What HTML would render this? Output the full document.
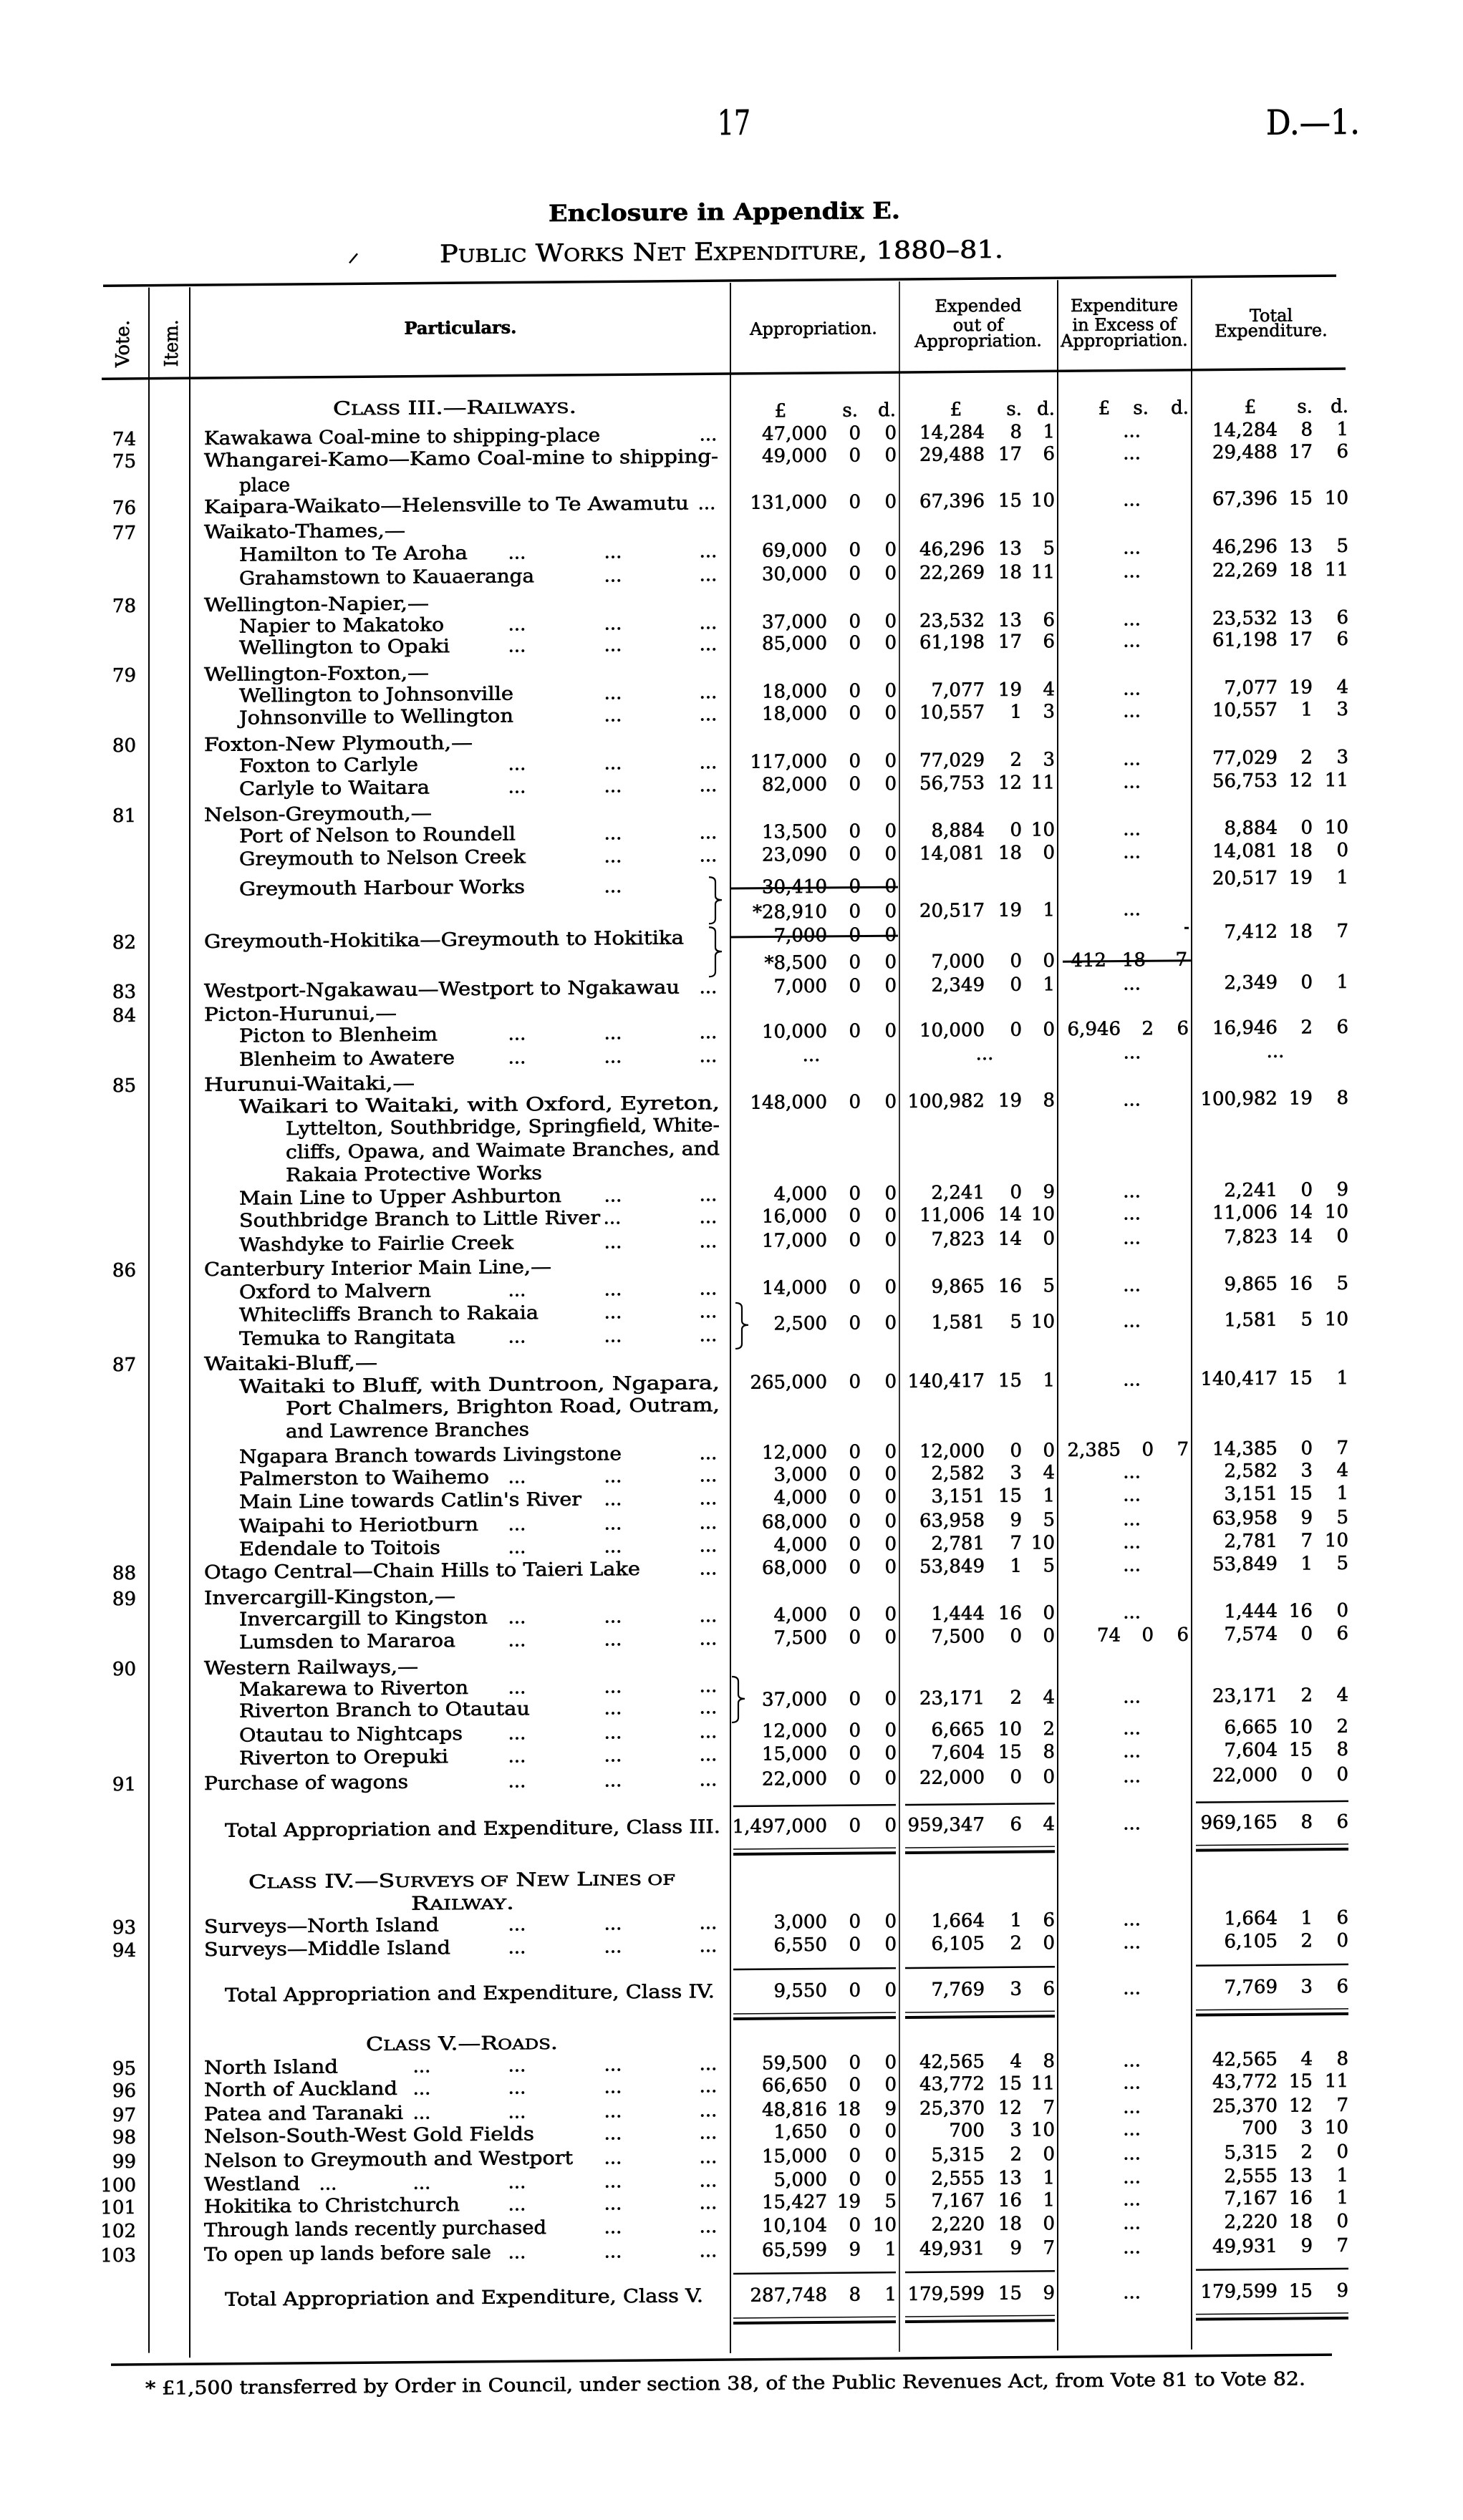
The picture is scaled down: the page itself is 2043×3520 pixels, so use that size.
<!DOCTYPE html>
<html><head><meta charset="utf-8"><style>html,body{margin:0;padding:0;background:#fff}svg{display:block}</style></head>
<body>
<svg xmlns="http://www.w3.org/2000/svg" width="2043" height="3520" viewBox="0 0 2043 3520">
<style>
text{font-family:"DejaVu Serif","Liberation Serif",serif;fill:#000;stroke:#000;stroke-width:0.6px}
.p{font-size:26px}
.n{font-size:26px;text-anchor:end}
.v{font-size:26px;text-anchor:end}
.d{font-size:26px;text-anchor:middle}
.h{font-size:24px;text-anchor:middle}
.sc{font-size:20px}
line{stroke:#000}
path{stroke:#000;fill:none}
</style>
<rect width="2043" height="3520" fill="#fff"/>
<g transform="translate(1021 1760) skewY(-0.47) translate(-1021 -1760)">

<!-- page head -->
<text x="1002" y="188" font-size="48" textLength="46" lengthAdjust="spacingAndGlyphs">17</text>
<text x="1768" y="194" font-size="48" textLength="131" lengthAdjust="spacingAndGlyphs">D.—1.</text>
<text x="766" y="307" font-size="32" font-weight="bold" textLength="491" lengthAdjust="spacingAndGlyphs">Enclosure in Appendix E.</text>
<line x1="488" y1="363" x2="499" y2="350" stroke-width="2.5"/>
<text x="614" y="363" font-size="34" textLength="787" lengthAdjust="spacingAndGlyphs">P<tspan font-size="25">UBLIC</tspan> W<tspan font-size="25">ORKS</tspan> N<tspan font-size="25">ET</tspan> E<tspan font-size="25">XPENDITURE</tspan>, 1880–81.</text>

<!-- table rules -->
<line x1="144" y1="392" x2="1866" y2="392" stroke-width="3.5"/>
<line x1="142" y1="522" x2="1879" y2="522" stroke-width="3.5"/>
<line x1="155" y1="3296" x2="1860" y2="3296" stroke-width="3.5"/>
<line x1="208" y1="395" x2="208" y2="3280" stroke-width="2"/>
<line x1="265" y1="395" x2="265" y2="3287" stroke-width="2"/>
<line x1="1020" y1="395" x2="1020" y2="3287" stroke-width="2"/>
<line x1="1256" y1="395" x2="1256" y2="3287" stroke-width="1.6"/>
<line x1="1477" y1="395" x2="1477" y2="3287" stroke-width="2"/>
<line x1="1664" y1="395" x2="1664" y2="3287" stroke-width="2"/>

<!-- header labels -->
<text font-size="26" text-anchor="middle" transform="translate(180 473) rotate(-90)" textLength="66" lengthAdjust="spacingAndGlyphs">Vote.</text>
<text font-size="26" text-anchor="middle" transform="translate(248 473) rotate(-90)" textLength="66" lengthAdjust="spacingAndGlyphs">Item.</text>
<text class="h" x="643" y="463" font-weight="bold">Particulars.</text>
<text class="h" x="1136" y="468">Appropriation.</text>
<text class="h" x="1366" y="438">Expended</text>
<text class="h" x="1366" y="465">out of</text>
<text class="h" x="1366" y="487">Appropriation.</text>
<text class="h" x="1570" y="439">Expenditure</text>
<text class="h" x="1570" y="466">in Excess of</text>
<text class="h" x="1570" y="488">Appropriation.</text>
<text class="h" x="1775" y="455">Total</text>
<text class="h" x="1775" y="476">Expenditure.</text>

<!-- CLASS III -->
<text x="635" y="575" text-anchor="middle" font-size="26" textLength="340" lengthAdjust="spacingAndGlyphs">C<tspan class="sc">LASS</tspan> III.—R<tspan class="sc">AILWAYS</tspan>.</text>
<text class="d" y="583"><tspan x="1090">£</tspan><tspan x="1335">£</tspan><tspan x="1542">£</tspan><tspan x="1746">£</tspan></text>
<text class="n" y="583"><tspan x="1198">s.</tspan><tspan x="1251">d.</tspan><tspan x="1427">s.</tspan><tspan x="1473">d.</tspan><tspan x="1604">s.</tspan><tspan x="1660">d.</tspan><tspan x="1833">s.</tspan><tspan x="1883">d.</tspan></text>

<!-- 74 -->
<text class="v" x="190" y="615">74</text>
<text class="p" x="285" y="615" textLength="553" lengthAdjust="spacingAndGlyphs">Kawakawa Coal-mine to shipping-place</text>
<text class="d" y="615"><tspan x="989">...</tspan></text>
<text class="n" y="615"><tspan x="1155">47,000</tspan><tspan x="1202">0</tspan><tspan x="1252">0</tspan><tspan x="1375">14,284</tspan><tspan x="1427">8</tspan><tspan x="1473">1</tspan><tspan x="1593">...</tspan><tspan x="1784">14,284</tspan><tspan x="1833">8</tspan><tspan x="1883">1</tspan></text>
<!-- 75 -->
<text class="v" x="190" y="646">75</text>
<text class="p" x="285" y="646" textLength="718" lengthAdjust="spacingAndGlyphs">Whangarei-Kamo—Kamo Coal-mine to shipping-</text>
<text class="n" y="646"><tspan x="1155">49,000</tspan><tspan x="1202">0</tspan><tspan x="1252">0</tspan><tspan x="1375">29,488</tspan><tspan x="1427">17</tspan><tspan x="1473">6</tspan><tspan x="1593">...</tspan><tspan x="1784">29,488</tspan><tspan x="1833">17</tspan><tspan x="1883">6</tspan></text>
<text class="p" x="334" y="681" textLength="71" lengthAdjust="spacingAndGlyphs">place</text>
<!-- 76 -->
<text class="v" x="190" y="711">76</text>
<text class="p" x="285" y="711" textLength="677" lengthAdjust="spacingAndGlyphs">Kaipara-Waikato—Helensville to Te Awamutu</text>
<text class="d" y="711"><tspan x="987">...</tspan></text>
<text class="n" y="711"><tspan x="1155">131,000</tspan><tspan x="1202">0</tspan><tspan x="1252">0</tspan><tspan x="1375">67,396</tspan><tspan x="1427">15</tspan><tspan x="1473">10</tspan><tspan x="1593">...</tspan><tspan x="1784">67,396</tspan><tspan x="1833">15</tspan><tspan x="1883">10</tspan></text>
<!-- 77 -->
<text class="v" x="190" y="746">77</text>
<text class="p" x="285" y="746" textLength="281" lengthAdjust="spacingAndGlyphs">Waikato-Thames,—</text>
<text class="p" x="334" y="778" textLength="319" lengthAdjust="spacingAndGlyphs">Hamilton to Te Aroha</text>
<text class="d" y="778"><tspan x="722">...</tspan><tspan x="856">...</tspan><tspan x="989">...</tspan></text>
<text class="n" y="778"><tspan x="1155">69,000</tspan><tspan x="1202">0</tspan><tspan x="1252">0</tspan><tspan x="1375">46,296</tspan><tspan x="1427">13</tspan><tspan x="1473">5</tspan><tspan x="1593">...</tspan><tspan x="1784">46,296</tspan><tspan x="1833">13</tspan><tspan x="1883">5</tspan></text>
<text class="p" x="334" y="811" textLength="412" lengthAdjust="spacingAndGlyphs">Grahamstown to Kauaeranga</text>
<text class="d" y="811"><tspan x="856">...</tspan><tspan x="989">...</tspan></text>
<text class="n" y="811"><tspan x="1155">30,000</tspan><tspan x="1202">0</tspan><tspan x="1252">0</tspan><tspan x="1375">22,269</tspan><tspan x="1427">18</tspan><tspan x="1473">11</tspan><tspan x="1593">...</tspan><tspan x="1784">22,269</tspan><tspan x="1833">18</tspan><tspan x="1883">11</tspan></text>
<!-- 78 -->
<text class="v" x="190" y="848">78</text>
<text class="p" x="285" y="848" textLength="314" lengthAdjust="spacingAndGlyphs">Wellington-Napier,—</text>
<text class="p" x="334" y="878" textLength="286" lengthAdjust="spacingAndGlyphs">Napier to Makatoko</text>
<text class="d" y="878"><tspan x="722">...</tspan><tspan x="856">...</tspan><tspan x="989">...</tspan></text>
<text class="n" y="878"><tspan x="1155">37,000</tspan><tspan x="1202">0</tspan><tspan x="1252">0</tspan><tspan x="1375">23,532</tspan><tspan x="1427">13</tspan><tspan x="1473">6</tspan><tspan x="1593">...</tspan><tspan x="1784">23,532</tspan><tspan x="1833">13</tspan><tspan x="1883">6</tspan></text>
<text class="p" x="334" y="908" textLength="294" lengthAdjust="spacingAndGlyphs">Wellington to Opaki</text>
<text class="d" y="908"><tspan x="722">...</tspan><tspan x="856">...</tspan><tspan x="989">...</tspan></text>
<text class="n" y="908"><tspan x="1155">85,000</tspan><tspan x="1202">0</tspan><tspan x="1252">0</tspan><tspan x="1375">61,198</tspan><tspan x="1427">17</tspan><tspan x="1473">6</tspan><tspan x="1593">...</tspan><tspan x="1784">61,198</tspan><tspan x="1833">17</tspan><tspan x="1883">6</tspan></text>
<!-- 79 -->
<text class="v" x="190" y="945">79</text>
<text class="p" x="285" y="945" textLength="314" lengthAdjust="spacingAndGlyphs">Wellington-Foxton,—</text>
<text class="p" x="334" y="975" textLength="383" lengthAdjust="spacingAndGlyphs">Wellington to Johnsonville</text>
<text class="d" y="975"><tspan x="856">...</tspan><tspan x="989">...</tspan></text>
<text class="n" y="975"><tspan x="1155">18,000</tspan><tspan x="1202">0</tspan><tspan x="1252">0</tspan><tspan x="1375">7,077</tspan><tspan x="1427">19</tspan><tspan x="1473">4</tspan><tspan x="1593">...</tspan><tspan x="1784">7,077</tspan><tspan x="1833">19</tspan><tspan x="1883">4</tspan></text>
<text class="p" x="334" y="1006" textLength="383" lengthAdjust="spacingAndGlyphs">Johnsonville to Wellington</text>
<text class="d" y="1006"><tspan x="856">...</tspan><tspan x="989">...</tspan></text>
<text class="n" y="1006"><tspan x="1155">18,000</tspan><tspan x="1202">0</tspan><tspan x="1252">0</tspan><tspan x="1375">10,557</tspan><tspan x="1427">1</tspan><tspan x="1473">3</tspan><tspan x="1593">...</tspan><tspan x="1784">10,557</tspan><tspan x="1833">1</tspan><tspan x="1883">3</tspan></text>
<!-- 80 -->
<text class="v" x="190" y="1043">80</text>
<text class="p" x="285" y="1043" textLength="375" lengthAdjust="spacingAndGlyphs">Foxton-New Plymouth,—</text>
<text class="p" x="334" y="1073" textLength="250" lengthAdjust="spacingAndGlyphs">Foxton to Carlyle</text>
<text class="d" y="1073"><tspan x="722">...</tspan><tspan x="856">...</tspan><tspan x="989">...</tspan></text>
<text class="n" y="1073"><tspan x="1155">117,000</tspan><tspan x="1202">0</tspan><tspan x="1252">0</tspan><tspan x="1375">77,029</tspan><tspan x="1427">2</tspan><tspan x="1473">3</tspan><tspan x="1593">...</tspan><tspan x="1784">77,029</tspan><tspan x="1833">2</tspan><tspan x="1883">3</tspan></text>
<text class="p" x="334" y="1105" textLength="266" lengthAdjust="spacingAndGlyphs">Carlyle to Waitara</text>
<text class="d" y="1105"><tspan x="722">...</tspan><tspan x="856">...</tspan><tspan x="989">...</tspan></text>
<text class="n" y="1105"><tspan x="1155">82,000</tspan><tspan x="1202">0</tspan><tspan x="1252">0</tspan><tspan x="1375">56,753</tspan><tspan x="1427">12</tspan><tspan x="1473">11</tspan><tspan x="1593">...</tspan><tspan x="1784">56,753</tspan><tspan x="1833">12</tspan><tspan x="1883">11</tspan></text>
<!-- 81 -->
<text class="v" x="190" y="1141">81</text>
<text class="p" x="285" y="1141" textLength="318" lengthAdjust="spacingAndGlyphs">Nelson-Greymouth,—</text>
<text class="p" x="334" y="1171" textLength="386" lengthAdjust="spacingAndGlyphs">Port of Nelson to Roundell</text>
<text class="d" y="1171"><tspan x="856">...</tspan><tspan x="989">...</tspan></text>
<text class="n" y="1171"><tspan x="1155">13,500</tspan><tspan x="1202">0</tspan><tspan x="1252">0</tspan><tspan x="1375">8,884</tspan><tspan x="1427">0</tspan><tspan x="1473">10</tspan><tspan x="1593">...</tspan><tspan x="1784">8,884</tspan><tspan x="1833">0</tspan><tspan x="1883">10</tspan></text>
<text class="p" x="334" y="1203" textLength="400" lengthAdjust="spacingAndGlyphs">Greymouth to Nelson Creek</text>
<text class="d" y="1203"><tspan x="856">...</tspan><tspan x="989">...</tspan></text>
<text class="n" y="1203"><tspan x="1155">23,090</tspan><tspan x="1202">0</tspan><tspan x="1252">0</tspan><tspan x="1375">14,081</tspan><tspan x="1427">18</tspan><tspan x="1473">0</tspan><tspan x="1593">...</tspan><tspan x="1784">14,081</tspan><tspan x="1833">18</tspan><tspan x="1883">0</tspan></text>
<text class="n" y="1241"><tspan x="1784">20,517</tspan><tspan x="1833">19</tspan><tspan x="1883">1</tspan></text>
<text class="p" x="334" y="1245" textLength="399" lengthAdjust="spacingAndGlyphs">Greymouth Harbour Works</text>
<text class="d" y="1245"><tspan x="856">...</tspan></text>
<text class="n" y="1248"><tspan x="1155">30,410</tspan><tspan x="1202">0</tspan><tspan x="1252">0</tspan></text>
<line x1="1021" y1="1241" x2="1254" y2="1241" stroke-width="3"/>
<path d="M990 1225 Q999 1225 999 1232 L999 1251 Q999 1257 1008 1257 Q999 1257 999 1263 L999 1283 Q999 1290 990 1290" stroke-width="2.2"/>
<text class="n" y="1283"><tspan x="1155">*28,910</tspan><tspan x="1202">0</tspan><tspan x="1252">0</tspan><tspan x="1375">20,517</tspan><tspan x="1427">19</tspan><tspan x="1473">1</tspan><tspan x="1593">...</tspan></text>
<!-- 82 -->
<text class="v" x="190" y="1318">82</text>
<text class="p" x="285" y="1318" textLength="670" lengthAdjust="spacingAndGlyphs">Greymouth-Hokitika—Greymouth to Hokitika</text>
<path d="M990 1295 Q999 1295 999 1302 L999 1323 Q999 1329 1008 1329 Q999 1329 999 1335 L999 1357 Q999 1364 990 1364" stroke-width="2.2"/>
<text class="n" y="1316"><tspan x="1155">7,000</tspan><tspan x="1202">0</tspan><tspan x="1252">0</tspan><tspan x="1784">7,412</tspan><tspan x="1833">18</tspan><tspan x="1883">7</tspan></text>
<line x1="1019" y1="1309" x2="1254" y2="1309" stroke-width="3"/>
<rect x="1654" y="1300" width="6" height="3" fill="#000"/>
<text class="n" y="1354"><tspan x="1155">*8,500</tspan><tspan x="1202">0</tspan><tspan x="1252">0</tspan><tspan x="1375">7,000</tspan><tspan x="1427">0</tspan><tspan x="1473">0</tspan><tspan x="1545">412</tspan><tspan x="1600">18</tspan><tspan x="1658">7</tspan></text>
<line x1="1484" y1="1347" x2="1663" y2="1347" stroke-width="3"/>
<!-- 83 -->
<text class="v" x="190" y="1387">83</text>
<text class="p" x="285" y="1387" textLength="664" lengthAdjust="spacingAndGlyphs">Westport-Ngakawau—Westport to Ngakawau</text>
<text class="d" y="1387"><tspan x="989">...</tspan></text>
<text class="n" y="1387"><tspan x="1155">7,000</tspan><tspan x="1202">0</tspan><tspan x="1252">0</tspan><tspan x="1375">2,349</tspan><tspan x="1427">0</tspan><tspan x="1473">1</tspan><tspan x="1593">...</tspan><tspan x="1784">2,349</tspan><tspan x="1833">0</tspan><tspan x="1883">1</tspan></text>
<!-- 84 -->
<text class="v" x="190" y="1420">84</text>
<text class="p" x="285" y="1420" textLength="269" lengthAdjust="spacingAndGlyphs">Picton-Hurunui,—</text>
<text class="p" x="334" y="1450" textLength="277" lengthAdjust="spacingAndGlyphs">Picton to Blenheim</text>
<text class="d" y="1450"><tspan x="722">...</tspan><tspan x="856">...</tspan><tspan x="989">...</tspan></text>
<text class="n" y="1450"><tspan x="1155">10,000</tspan><tspan x="1202">0</tspan><tspan x="1252">0</tspan><tspan x="1375">10,000</tspan><tspan x="1427">0</tspan><tspan x="1473">0</tspan><tspan x="1565">6,946</tspan><tspan x="1611">2</tspan><tspan x="1660">6</tspan><tspan x="1784">16,946</tspan><tspan x="1833">2</tspan><tspan x="1883">6</tspan></text>
<text class="p" x="334" y="1483" textLength="301" lengthAdjust="spacingAndGlyphs">Blenheim to Awatere</text>
<text class="d" y="1483"><tspan x="722">...</tspan><tspan x="856">...</tspan><tspan x="989">...</tspan><tspan x="1133">...</tspan><tspan x="1375">...</tspan><tspan x="1581">...</tspan><tspan x="1781">...</tspan></text>
<!-- 85 -->
<text class="v" x="190" y="1518">85</text>
<text class="p" x="285" y="1518" textLength="294" lengthAdjust="spacingAndGlyphs">Hurunui-Waitaki,—</text>
<text class="p" x="334" y="1549" textLength="671" lengthAdjust="spacingAndGlyphs">Waikari to Waitaki, with Oxford, Eyreton,</text>
<text class="n" y="1549"><tspan x="1155">148,000</tspan><tspan x="1202">0</tspan><tspan x="1252">0</tspan><tspan x="1375">100,982</tspan><tspan x="1427">19</tspan><tspan x="1473">8</tspan><tspan x="1593">...</tspan><tspan x="1784">100,982</tspan><tspan x="1833">19</tspan><tspan x="1883">8</tspan></text>
<text class="p" x="399" y="1580" textLength="606" lengthAdjust="spacingAndGlyphs">Lyttelton, Southbridge, Springfield, White-</text>
<text class="p" x="399" y="1613" textLength="606" lengthAdjust="spacingAndGlyphs">cliffs, Opawa, and Waimate Branches, and</text>
<text class="p" x="399" y="1645" textLength="358" lengthAdjust="spacingAndGlyphs">Rakaia Protective Works</text>
<text class="p" x="334" y="1677" textLength="450" lengthAdjust="spacingAndGlyphs">Main Line to Upper Ashburton</text>
<text class="d" y="1677"><tspan x="856">...</tspan><tspan x="989">...</tspan></text>
<text class="n" y="1677"><tspan x="1155">4,000</tspan><tspan x="1202">0</tspan><tspan x="1252">0</tspan><tspan x="1375">2,241</tspan><tspan x="1427">0</tspan><tspan x="1473">9</tspan><tspan x="1593">...</tspan><tspan x="1784">2,241</tspan><tspan x="1833">0</tspan><tspan x="1883">9</tspan></text>
<text class="p" x="334" y="1708" textLength="504" lengthAdjust="spacingAndGlyphs">Southbridge Branch to Little River</text>
<text class="d" y="1708"><tspan x="855">...</tspan><tspan x="989">...</tspan></text>
<text class="n" y="1708"><tspan x="1155">16,000</tspan><tspan x="1202">0</tspan><tspan x="1252">0</tspan><tspan x="1375">11,006</tspan><tspan x="1427">14</tspan><tspan x="1473">10</tspan><tspan x="1593">...</tspan><tspan x="1784">11,006</tspan><tspan x="1833">14</tspan><tspan x="1883">10</tspan></text>
<text class="p" x="334" y="1742" textLength="383" lengthAdjust="spacingAndGlyphs">Washdyke to Fairlie Creek</text>
<text class="d" y="1742"><tspan x="856">...</tspan><tspan x="989">...</tspan></text>
<text class="n" y="1742"><tspan x="1155">17,000</tspan><tspan x="1202">0</tspan><tspan x="1252">0</tspan><tspan x="1375">7,823</tspan><tspan x="1427">14</tspan><tspan x="1473">0</tspan><tspan x="1593">...</tspan><tspan x="1784">7,823</tspan><tspan x="1833">14</tspan><tspan x="1883">0</tspan></text>
<!-- 86 -->
<text class="v" x="190" y="1776">86</text>
<text class="p" x="285" y="1776" textLength="485" lengthAdjust="spacingAndGlyphs">Canterbury Interior Main Line,—</text>
<text class="p" x="334" y="1808" textLength="268" lengthAdjust="spacingAndGlyphs">Oxford to Malvern</text>
<text class="d" y="1808"><tspan x="722">...</tspan><tspan x="856">...</tspan><tspan x="989">...</tspan></text>
<text class="n" y="1808"><tspan x="1155">14,000</tspan><tspan x="1202">0</tspan><tspan x="1252">0</tspan><tspan x="1375">9,865</tspan><tspan x="1427">16</tspan><tspan x="1473">5</tspan><tspan x="1593">...</tspan><tspan x="1784">9,865</tspan><tspan x="1833">16</tspan><tspan x="1883">5</tspan></text>
<text class="p" x="334" y="1840" textLength="418" lengthAdjust="spacingAndGlyphs">Whitecliffs Branch to Rakaia</text>
<text class="d" y="1840"><tspan x="856">...</tspan><tspan x="989">...</tspan></text>
<path d="M1027 1820 Q1036 1820 1036 1827 L1036 1845 Q1036 1851 1045 1851 Q1036 1851 1036 1857 L1036 1877 Q1036 1884 1027 1884" stroke-width="2.2"/>
<text class="n" y="1858"><tspan x="1155">2,500</tspan><tspan x="1202">0</tspan><tspan x="1252">0</tspan><tspan x="1375">1,581</tspan><tspan x="1427">5</tspan><tspan x="1473">10</tspan><tspan x="1593">...</tspan><tspan x="1784">1,581</tspan><tspan x="1833">5</tspan><tspan x="1883">10</tspan></text>
<text class="p" x="334" y="1873" textLength="302" lengthAdjust="spacingAndGlyphs">Temuka to Rangitata</text>
<text class="d" y="1873"><tspan x="722">...</tspan><tspan x="856">...</tspan><tspan x="989">...</tspan></text>
<!-- 87 -->
<text class="v" x="190" y="1908">87</text>
<text class="p" x="285" y="1908" textLength="242" lengthAdjust="spacingAndGlyphs">Waitaki-Bluff,—</text>
<text class="p" x="334" y="1940" textLength="671" lengthAdjust="spacingAndGlyphs">Waitaki to Bluff, with Duntroon, Ngapara,</text>
<text class="n" y="1940"><tspan x="1155">265,000</tspan><tspan x="1202">0</tspan><tspan x="1252">0</tspan><tspan x="1375">140,417</tspan><tspan x="1427">15</tspan><tspan x="1473">1</tspan><tspan x="1593">...</tspan><tspan x="1784">140,417</tspan><tspan x="1833">15</tspan><tspan x="1883">1</tspan></text>
<text class="p" x="399" y="1971" textLength="606" lengthAdjust="spacingAndGlyphs">Port Chalmers, Brighton Road, Outram,</text>
<text class="p" x="399" y="2003" textLength="340" lengthAdjust="spacingAndGlyphs">and Lawrence Branches</text>
<text class="p" x="334" y="2038" textLength="534" lengthAdjust="spacingAndGlyphs">Ngapara Branch towards Livingstone</text>
<text class="d" y="2038"><tspan x="989">...</tspan></text>
<text class="n" y="2038"><tspan x="1155">12,000</tspan><tspan x="1202">0</tspan><tspan x="1252">0</tspan><tspan x="1375">12,000</tspan><tspan x="1427">0</tspan><tspan x="1473">0</tspan><tspan x="1565">2,385</tspan><tspan x="1611">0</tspan><tspan x="1660">7</tspan><tspan x="1784">14,385</tspan><tspan x="1833">0</tspan><tspan x="1883">7</tspan></text>
<text class="p" x="334" y="2069" textLength="349" lengthAdjust="spacingAndGlyphs">Palmerston to Waihemo</text>
<text class="d" y="2069"><tspan x="722">...</tspan><tspan x="856">...</tspan><tspan x="989">...</tspan></text>
<text class="n" y="2069"><tspan x="1155">3,000</tspan><tspan x="1202">0</tspan><tspan x="1252">0</tspan><tspan x="1375">2,582</tspan><tspan x="1427">3</tspan><tspan x="1473">4</tspan><tspan x="1593">...</tspan><tspan x="1784">2,582</tspan><tspan x="1833">3</tspan><tspan x="1883">4</tspan></text>
<text class="p" x="334" y="2101" textLength="478" lengthAdjust="spacingAndGlyphs">Main Line towards Catlin's River</text>
<text class="d" y="2101"><tspan x="856">...</tspan><tspan x="989">...</tspan></text>
<text class="n" y="2101"><tspan x="1155">4,000</tspan><tspan x="1202">0</tspan><tspan x="1252">0</tspan><tspan x="1375">3,151</tspan><tspan x="1427">15</tspan><tspan x="1473">1</tspan><tspan x="1593">...</tspan><tspan x="1784">3,151</tspan><tspan x="1833">15</tspan><tspan x="1883">1</tspan></text>
<text class="p" x="334" y="2135" textLength="334" lengthAdjust="spacingAndGlyphs">Waipahi to Heriotburn</text>
<text class="d" y="2135"><tspan x="722">...</tspan><tspan x="856">...</tspan><tspan x="989">...</tspan></text>
<text class="n" y="2135"><tspan x="1155">68,000</tspan><tspan x="1202">0</tspan><tspan x="1252">0</tspan><tspan x="1375">63,958</tspan><tspan x="1427">9</tspan><tspan x="1473">5</tspan><tspan x="1593">...</tspan><tspan x="1784">63,958</tspan><tspan x="1833">9</tspan><tspan x="1883">5</tspan></text>
<text class="p" x="334" y="2167" textLength="281" lengthAdjust="spacingAndGlyphs">Edendale to Toitois</text>
<text class="d" y="2167"><tspan x="722">...</tspan><tspan x="856">...</tspan><tspan x="989">...</tspan></text>
<text class="n" y="2167"><tspan x="1155">4,000</tspan><tspan x="1202">0</tspan><tspan x="1252">0</tspan><tspan x="1375">2,781</tspan><tspan x="1427">7</tspan><tspan x="1473">10</tspan><tspan x="1593">...</tspan><tspan x="1784">2,781</tspan><tspan x="1833">7</tspan><tspan x="1883">10</tspan></text>
<!-- 88 -->
<text class="v" x="190" y="2199">88</text>
<text class="p" x="285" y="2199" textLength="609" lengthAdjust="spacingAndGlyphs">Otago Central—Chain Hills to Taieri Lake</text>
<text class="d" y="2199"><tspan x="989">...</tspan></text>
<text class="n" y="2199"><tspan x="1155">68,000</tspan><tspan x="1202">0</tspan><tspan x="1252">0</tspan><tspan x="1375">53,849</tspan><tspan x="1427">1</tspan><tspan x="1473">5</tspan><tspan x="1593">...</tspan><tspan x="1784">53,849</tspan><tspan x="1833">1</tspan><tspan x="1883">5</tspan></text>
<!-- 89 -->
<text class="v" x="190" y="2235">89</text>
<text class="p" x="285" y="2235" textLength="351" lengthAdjust="spacingAndGlyphs">Invercargill-Kingston,—</text>
<text class="p" x="334" y="2265" textLength="347" lengthAdjust="spacingAndGlyphs">Invercargill to Kingston</text>
<text class="d" y="2265"><tspan x="722">...</tspan><tspan x="856">...</tspan><tspan x="989">...</tspan></text>
<text class="n" y="2265"><tspan x="1155">4,000</tspan><tspan x="1202">0</tspan><tspan x="1252">0</tspan><tspan x="1375">1,444</tspan><tspan x="1427">16</tspan><tspan x="1473">0</tspan><tspan x="1593">...</tspan><tspan x="1784">1,444</tspan><tspan x="1833">16</tspan><tspan x="1883">0</tspan></text>
<text class="p" x="334" y="2297" textLength="302" lengthAdjust="spacingAndGlyphs">Lumsden to Mararoa</text>
<text class="d" y="2297"><tspan x="722">...</tspan><tspan x="856">...</tspan><tspan x="989">...</tspan></text>
<text class="n" y="2297"><tspan x="1155">7,500</tspan><tspan x="1202">0</tspan><tspan x="1252">0</tspan><tspan x="1375">7,500</tspan><tspan x="1427">0</tspan><tspan x="1473">0</tspan><tspan x="1565">74</tspan><tspan x="1611">0</tspan><tspan x="1660">6</tspan><tspan x="1784">7,574</tspan><tspan x="1833">0</tspan><tspan x="1883">6</tspan></text>
<!-- 90 -->
<text class="v" x="190" y="2333">90</text>
<text class="p" x="285" y="2333" textLength="299" lengthAdjust="spacingAndGlyphs">Western Railways,—</text>
<text class="p" x="334" y="2363" textLength="320" lengthAdjust="spacingAndGlyphs">Makarewa to Riverton</text>
<text class="d" y="2363"><tspan x="722">...</tspan><tspan x="856">...</tspan><tspan x="989">...</tspan></text>
<path d="M1022 2342 Q1031 2342 1031 2349 L1031 2367 Q1031 2373 1040 2373 Q1031 2373 1031 2379 L1031 2399 Q1031 2406 1022 2406" stroke-width="2.2"/>
<text class="n" y="2383"><tspan x="1155">37,000</tspan><tspan x="1202">0</tspan><tspan x="1252">0</tspan><tspan x="1375">23,171</tspan><tspan x="1427">2</tspan><tspan x="1473">4</tspan><tspan x="1593">...</tspan><tspan x="1784">23,171</tspan><tspan x="1833">2</tspan><tspan x="1883">4</tspan></text>
<text class="p" x="334" y="2393" textLength="406" lengthAdjust="spacingAndGlyphs">Riverton Branch to Otautau</text>
<text class="d" y="2393"><tspan x="856">...</tspan><tspan x="989">...</tspan></text>
<text class="p" x="334" y="2427" textLength="312" lengthAdjust="spacingAndGlyphs">Otautau to Nightcaps</text>
<text class="d" y="2427"><tspan x="722">...</tspan><tspan x="856">...</tspan><tspan x="989">...</tspan></text>
<text class="n" y="2427"><tspan x="1155">12,000</tspan><tspan x="1202">0</tspan><tspan x="1252">0</tspan><tspan x="1375">6,665</tspan><tspan x="1427">10</tspan><tspan x="1473">2</tspan><tspan x="1593">...</tspan><tspan x="1784">6,665</tspan><tspan x="1833">10</tspan><tspan x="1883">2</tspan></text>
<text class="p" x="334" y="2459" textLength="292" lengthAdjust="spacingAndGlyphs">Riverton to Orepuki</text>
<text class="d" y="2459"><tspan x="722">...</tspan><tspan x="856">...</tspan><tspan x="989">...</tspan></text>
<text class="n" y="2459"><tspan x="1155">15,000</tspan><tspan x="1202">0</tspan><tspan x="1252">0</tspan><tspan x="1375">7,604</tspan><tspan x="1427">15</tspan><tspan x="1473">8</tspan><tspan x="1593">...</tspan><tspan x="1784">7,604</tspan><tspan x="1833">15</tspan><tspan x="1883">8</tspan></text>
<!-- 91 -->
<text class="v" x="190" y="2494">91</text>
<text class="p" x="285" y="2494" textLength="285" lengthAdjust="spacingAndGlyphs">Purchase of wagons</text>
<text class="d" y="2494"><tspan x="722">...</tspan><tspan x="856">...</tspan><tspan x="989">...</tspan></text>
<text class="n" y="2494"><tspan x="1155">22,000</tspan><tspan x="1202">0</tspan><tspan x="1252">0</tspan><tspan x="1375">22,000</tspan><tspan x="1427">0</tspan><tspan x="1473">0</tspan><tspan x="1593">...</tspan><tspan x="1784">22,000</tspan><tspan x="1833">0</tspan><tspan x="1883">0</tspan></text>
<!-- total III -->
<line x1="1024" y1="2523" x2="1251" y2="2523" stroke-width="2.5"/>
<line x1="1264" y1="2523" x2="1473" y2="2523" stroke-width="2.5"/>
<line x1="1670" y1="2523" x2="1883" y2="2523" stroke-width="2.5"/>
<text class="p" x="314" y="2560" textLength="692" lengthAdjust="spacingAndGlyphs">Total Appropriation and Expenditure, Class III.</text>
<text class="n" y="2560"><tspan x="1155">1,497,000</tspan><tspan x="1202">0</tspan><tspan x="1252">0</tspan><tspan x="1375">959,347</tspan><tspan x="1427">6</tspan><tspan x="1473">4</tspan><tspan x="1593">...</tspan><tspan x="1784">969,165</tspan><tspan x="1833">8</tspan><tspan x="1883">6</tspan></text>
<line x1="1024" y1="2583" x2="1251" y2="2583" stroke-width="1.5"/>
<line x1="1264" y1="2583" x2="1473" y2="2583" stroke-width="1.5"/>
<line x1="1670" y1="2583" x2="1883" y2="2583" stroke-width="1.5"/>
<line x1="1024" y1="2590" x2="1251" y2="2590" stroke-width="4"/>
<line x1="1264" y1="2590" x2="1473" y2="2590" stroke-width="4"/>
<line x1="1670" y1="2590" x2="1883" y2="2590" stroke-width="4"/>

<!-- CLASS IV -->
<text x="645" y="2632" text-anchor="middle" font-size="26" textLength="596" lengthAdjust="spacingAndGlyphs">C<tspan class="sc">LASS</tspan> IV.—S<tspan class="sc">URVEYS OF</tspan> N<tspan class="sc">EW</tspan> L<tspan class="sc">INES OF</tspan></text>
<text x="646" y="2664" text-anchor="middle" font-size="26" textLength="144" lengthAdjust="spacingAndGlyphs">R<tspan class="sc">AILWAY</tspan>.</text>
<text class="v" x="190" y="2694">93</text>
<text class="p" x="285" y="2694" textLength="328" lengthAdjust="spacingAndGlyphs">Surveys—North Island</text>
<text class="d" y="2694"><tspan x="722">...</tspan><tspan x="856">...</tspan><tspan x="989">...</tspan></text>
<text class="n" y="2694"><tspan x="1155">3,000</tspan><tspan x="1202">0</tspan><tspan x="1252">0</tspan><tspan x="1375">1,664</tspan><tspan x="1427">1</tspan><tspan x="1473">6</tspan><tspan x="1593">...</tspan><tspan x="1784">1,664</tspan><tspan x="1833">1</tspan><tspan x="1883">6</tspan></text>
<text class="v" x="190" y="2726">94</text>
<text class="p" x="285" y="2726" textLength="344" lengthAdjust="spacingAndGlyphs">Surveys—Middle Island</text>
<text class="d" y="2726"><tspan x="722">...</tspan><tspan x="856">...</tspan><tspan x="989">...</tspan></text>
<text class="n" y="2726"><tspan x="1155">6,550</tspan><tspan x="1202">0</tspan><tspan x="1252">0</tspan><tspan x="1375">6,105</tspan><tspan x="1427">2</tspan><tspan x="1473">0</tspan><tspan x="1593">...</tspan><tspan x="1784">6,105</tspan><tspan x="1833">2</tspan><tspan x="1883">0</tspan></text>
<line x1="1024" y1="2751" x2="1251" y2="2751" stroke-width="2.5"/>
<line x1="1264" y1="2751" x2="1473" y2="2751" stroke-width="2.5"/>
<line x1="1670" y1="2751" x2="1883" y2="2751" stroke-width="2.5"/>
<text class="p" x="314" y="2790" textLength="684" lengthAdjust="spacingAndGlyphs">Total Appropriation and Expenditure, Class IV.</text>
<text class="n" y="2790"><tspan x="1155">9,550</tspan><tspan x="1202">0</tspan><tspan x="1252">0</tspan><tspan x="1375">7,769</tspan><tspan x="1427">3</tspan><tspan x="1473">6</tspan><tspan x="1593">...</tspan><tspan x="1784">7,769</tspan><tspan x="1833">3</tspan><tspan x="1883">6</tspan></text>
<line x1="1024" y1="2813" x2="1251" y2="2813" stroke-width="1.5"/>
<line x1="1264" y1="2813" x2="1473" y2="2813" stroke-width="1.5"/>
<line x1="1670" y1="2813" x2="1883" y2="2813" stroke-width="1.5"/>
<line x1="1024" y1="2820" x2="1251" y2="2820" stroke-width="4"/>
<line x1="1264" y1="2820" x2="1473" y2="2820" stroke-width="4"/>
<line x1="1670" y1="2820" x2="1883" y2="2820" stroke-width="4"/>

<!-- CLASS V -->
<text x="645" y="2860" text-anchor="middle" font-size="26" textLength="268" lengthAdjust="spacingAndGlyphs">C<tspan class="sc">LASS</tspan> V.—R<tspan class="sc">OADS</tspan>.</text>
<text class="v" x="190" y="2891">95</text>
<text class="p" x="285" y="2891" textLength="187" lengthAdjust="spacingAndGlyphs">North Island</text>
<text class="d" y="2891"><tspan x="589">...</tspan><tspan x="722">...</tspan><tspan x="856">...</tspan><tspan x="989">...</tspan></text>
<text class="n" y="2891"><tspan x="1155">59,500</tspan><tspan x="1202">0</tspan><tspan x="1252">0</tspan><tspan x="1375">42,565</tspan><tspan x="1427">4</tspan><tspan x="1473">8</tspan><tspan x="1593">...</tspan><tspan x="1784">42,565</tspan><tspan x="1833">4</tspan><tspan x="1883">8</tspan></text>
<text class="v" x="190" y="2922">96</text>
<text class="p" x="285" y="2922" textLength="270" lengthAdjust="spacingAndGlyphs">North of Auckland</text>
<text class="d" y="2922"><tspan x="589">...</tspan><tspan x="722">...</tspan><tspan x="856">...</tspan><tspan x="989">...</tspan></text>
<text class="n" y="2922"><tspan x="1155">66,650</tspan><tspan x="1202">0</tspan><tspan x="1252">0</tspan><tspan x="1375">43,772</tspan><tspan x="1427">15</tspan><tspan x="1473">11</tspan><tspan x="1593">...</tspan><tspan x="1784">43,772</tspan><tspan x="1833">15</tspan><tspan x="1883">11</tspan></text>
<text class="v" x="190" y="2956">97</text>
<text class="p" x="285" y="2956" textLength="278" lengthAdjust="spacingAndGlyphs">Patea and Taranaki</text>
<text class="d" y="2956"><tspan x="589">...</tspan><tspan x="722">...</tspan><tspan x="856">...</tspan><tspan x="989">...</tspan></text>
<text class="n" y="2956"><tspan x="1155">48,816</tspan><tspan x="1202">18</tspan><tspan x="1252">9</tspan><tspan x="1375">25,370</tspan><tspan x="1427">12</tspan><tspan x="1473">7</tspan><tspan x="1593">...</tspan><tspan x="1784">25,370</tspan><tspan x="1833">12</tspan><tspan x="1883">7</tspan></text>
<text class="v" x="190" y="2987">98</text>
<text class="p" x="285" y="2987" textLength="461" lengthAdjust="spacingAndGlyphs">Nelson-South-West Gold Fields</text>
<text class="d" y="2987"><tspan x="856">...</tspan><tspan x="989">...</tspan></text>
<text class="n" y="2987"><tspan x="1155">1,650</tspan><tspan x="1202">0</tspan><tspan x="1252">0</tspan><tspan x="1375">700</tspan><tspan x="1427">3</tspan><tspan x="1473">10</tspan><tspan x="1593">...</tspan><tspan x="1784">700</tspan><tspan x="1833">3</tspan><tspan x="1883">10</tspan></text>
<text class="v" x="190" y="3021">99</text>
<text class="p" x="285" y="3021" textLength="515" lengthAdjust="spacingAndGlyphs">Nelson to Greymouth and Westport</text>
<text class="d" y="3021"><tspan x="856">...</tspan><tspan x="989">...</tspan></text>
<text class="n" y="3021"><tspan x="1155">15,000</tspan><tspan x="1202">0</tspan><tspan x="1252">0</tspan><tspan x="1375">5,315</tspan><tspan x="1427">2</tspan><tspan x="1473">0</tspan><tspan x="1593">...</tspan><tspan x="1784">5,315</tspan><tspan x="1833">2</tspan><tspan x="1883">0</tspan></text>
<text class="v" x="190" y="3054">100</text>
<text class="p" x="285" y="3054" textLength="134" lengthAdjust="spacingAndGlyphs">Westland</text>
<text class="d" y="3054"><tspan x="458">...</tspan><tspan x="589">...</tspan><tspan x="722">...</tspan><tspan x="856">...</tspan><tspan x="989">...</tspan></text>
<text class="n" y="3054"><tspan x="1155">5,000</tspan><tspan x="1202">0</tspan><tspan x="1252">0</tspan><tspan x="1375">2,555</tspan><tspan x="1427">13</tspan><tspan x="1473">1</tspan><tspan x="1593">...</tspan><tspan x="1784">2,555</tspan><tspan x="1833">13</tspan><tspan x="1883">1</tspan></text>
<text class="v" x="190" y="3085">101</text>
<text class="p" x="285" y="3085" textLength="357" lengthAdjust="spacingAndGlyphs">Hokitika to Christchurch</text>
<text class="d" y="3085"><tspan x="722">...</tspan><tspan x="856">...</tspan><tspan x="989">...</tspan></text>
<text class="n" y="3085"><tspan x="1155">15,427</tspan><tspan x="1202">19</tspan><tspan x="1252">5</tspan><tspan x="1375">7,167</tspan><tspan x="1427">16</tspan><tspan x="1473">1</tspan><tspan x="1593">...</tspan><tspan x="1784">7,167</tspan><tspan x="1833">16</tspan><tspan x="1883">1</tspan></text>
<text class="v" x="190" y="3118">102</text>
<text class="p" x="285" y="3118" textLength="478" lengthAdjust="spacingAndGlyphs">Through lands recently purchased</text>
<text class="d" y="3118"><tspan x="856">...</tspan><tspan x="989">...</tspan></text>
<text class="n" y="3118"><tspan x="1155">10,104</tspan><tspan x="1202">0</tspan><tspan x="1252">10</tspan><tspan x="1375">2,220</tspan><tspan x="1427">18</tspan><tspan x="1473">0</tspan><tspan x="1593">...</tspan><tspan x="1784">2,220</tspan><tspan x="1833">18</tspan><tspan x="1883">0</tspan></text>
<text class="v" x="190" y="3152">103</text>
<text class="p" x="285" y="3152" textLength="401" lengthAdjust="spacingAndGlyphs">To open up lands before sale</text>
<text class="d" y="3152"><tspan x="722">...</tspan><tspan x="856">...</tspan><tspan x="989">...</tspan></text>
<text class="n" y="3152"><tspan x="1155">65,599</tspan><tspan x="1202">9</tspan><tspan x="1252">1</tspan><tspan x="1375">49,931</tspan><tspan x="1427">9</tspan><tspan x="1473">7</tspan><tspan x="1593">...</tspan><tspan x="1784">49,931</tspan><tspan x="1833">9</tspan><tspan x="1883">7</tspan></text>
<line x1="1024" y1="3176" x2="1251" y2="3176" stroke-width="2.5"/>
<line x1="1264" y1="3176" x2="1473" y2="3176" stroke-width="2.5"/>
<line x1="1670" y1="3176" x2="1883" y2="3176" stroke-width="2.5"/>
<text class="p" x="314" y="3215" textLength="668" lengthAdjust="spacingAndGlyphs">Total Appropriation and Expenditure, Class V.</text>
<text class="n" y="3215"><tspan x="1155">287,748</tspan><tspan x="1202">8</tspan><tspan x="1252">1</tspan><tspan x="1375">179,599</tspan><tspan x="1427">15</tspan><tspan x="1473">9</tspan><tspan x="1593">...</tspan><tspan x="1784">179,599</tspan><tspan x="1833">15</tspan><tspan x="1883">9</tspan></text>
<line x1="1024" y1="3238" x2="1251" y2="3238" stroke-width="1.5"/>
<line x1="1264" y1="3238" x2="1473" y2="3238" stroke-width="1.5"/>
<line x1="1670" y1="3238" x2="1883" y2="3238" stroke-width="1.5"/>
<line x1="1024" y1="3245" x2="1251" y2="3245" stroke-width="4"/>
<line x1="1264" y1="3245" x2="1473" y2="3245" stroke-width="4"/>
<line x1="1670" y1="3245" x2="1883" y2="3245" stroke-width="4"/>

<!-- footnote -->
<text class="p" x="203" y="3338" textLength="1620" lengthAdjust="spacingAndGlyphs">* £1,500 transferred by Order in Council, under section 38, of the Public Revenues Act, from Vote 81 to Vote 82.</text>
</g>
</svg>
</body></html>
